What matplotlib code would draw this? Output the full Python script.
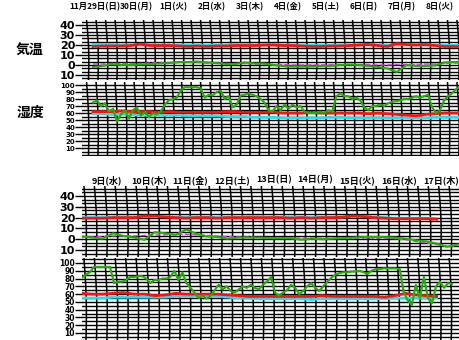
import numpy as np
import matplotlib.pyplot as plt

plt.rcParams['font.family'] = ['Noto Sans CJK JP', 'DejaVu Sans']

W, H = 460, 340

# day labels
days_1 = ["11月29日(日)", "30日(月)", "1日(火)", "2日(水)", "3日(木)",
          "4日(金)", "5日(土)", "6日(日)", "7日(月)", "8日(火)"]
days_2 = ["9日(水)", "10日(木)", "11日(金)", "12日(土)", "13日(日)",
          "14日(月)", "15日(火)", "16日(水)", "17日(木)"]

# ---- period 1 (11/29 - 12/8), 6-hourly from day 0.37 ----
temp1_red = [18.5, 19, 19, 19, 19.5, 21, 19.5, 19.5, 19.5, 19, 18.5, 19, 18.5, 19,
             19, 19.5, 19.5, 19.5, 20, 20, 19.5, 19.5, 19, 18.5, 18.5, 19, 19, 19.5,
             20, 20.5, 19.5, 18.5, 21.5, 20.5, 20, 20.5, 19.5, 18.5, 18.5, 18.5]
temp1_cyan = [20.5, 20.5, 20.5, 20, 20, 20.5, 20.5, 20, 20, 20, 20, 20, 19.5, 20,
              20, 20.5, 20.5, 20, 20, 20.5, 20, 20, 19.5, 19.5, 19.5, 19.5, 20, 20,
              20, 20.5, 20, 19.5, 20.5, 20.5, 20, 20, 20, 19.5, 19.5, 19.5]
temp1_green = [-2, -1, 1, 0, 0, 0.5, 1, 1.5, 2, 3, 3, 3.5, 2.5, 2, 1, 1, 2.5, 1.5,
               1.5, 0, -1, -1.5, -1.5, -1.5, -1, -1, 0, 0.5, 0, -1, -2, -3.5, -7,
               0, -1, -1, -0.5, 2.5, 3, 3]
temp1_mag = [1, 1, 1.5, 1.5, 1.5, 1.5, 2, 2, 2, 2.5, 2.5, 2.5, 2, 2, 1.5, 1.5, 1.5,
             1, 1, 0.5, 0.5, 0, 0, 0, 0, 0.5, 0.5, 0.5, 0.5, 0.5, 0, 0, 0.5, 0.5,
             0.5, 1, 1, 1.5, 2, 2]
hum1_red = [62, 62, 62, 63, 62, 62, 62, 61, 62, 61, 61, 61, 61, 61, 62, 62, 61, 61,
            61, 61, 60, 60, 60, 61, 60, 60, 60, 60, 60, 59, 60, 59, 58, 57, 56, 58,
            59, 60, 60, 60]
hum1_cyan = [59, 59, 58, 58, 58, 57, 57, 57, 57, 57, 56, 56, 56, 56, 55, 55, 55, 54,
             54, 54, 53, 53, 53, 53, 53, 54, 54, 53, 53, 53, 53, 53, 53, 53, 53, 53,
             54, 54, 54, 54]
hum1_green = [75, 78, 70, 74, 62, 66, 48, 58, 64, 52, 64, 68, 56, 62, 54, 60, 58, 62,
              72, 78, 80, 82, 92, 97, 97, 97, 97, 95, 82, 86, 85, 90, 92, 80, 84, 68,
              72, 85, 86, 88, 86, 84, 80, 75, 64, 62, 70, 64, 72, 66, 72, 68, 70, 62,
              60, 60, 60, 62, 60, 64, 62, 84, 88, 84, 84, 80, 82, 78, 68, 64, 70, 70,
              72, 70, 74, 76, 77, 78, 80, 80, 82, 84, 82, 84, 86, 68, 60, 64, 78, 84,
              88, 94, 98]

# ---- period 2 (12/9 - 12/17), 6-hourly from day -0.1 ----
temp2_red = [19.5, 19.5, 19.5, 20, 20, 20, 21.5, 21.5, 20.5, 20, 19.5, 20, 20, 19.5,
             20, 20, 20, 20, 20, 20, 19.5, 20, 19.5, 20, 20, 20.5, 21.5, 21, 20,
             19.5, 19, 19, 19, 19, 18.5]
temp2_cyan = [20, 20, 20, 20.5, 20.5, 20.5, 21, 21, 21, 20.5, 20.5, 20.5, 20.5, 20,
              20.5, 20.5, 21, 21, 20.5, 20.5, 20.5, 20.5, 20, 20.5, 20.5, 20.5, 21,
              21, 20.5, 20, 19.5, 19.5, 19.5, 19.5, 19]
temp2_green = [2.5, 1.5, 0.5, 5.5, 3, 1.5, -0.5, 6.5, 5.5, 4, 9, 5, 2.5, 2, 0.5, 1.5,
               1.5, 1.5, 1, 1, 1, -0.5, 0.5, 0, 0.5, 1, 1.5, 2, 2, 2, 1.5, 0.5, -1,
               -2, -4, -7, -5]
temp2_mag = [2, 2, 2.5, 3, 3, 3, 3.5, 4, 4, 4.5, 4.5, 4, 3.5, 3, 2.5, 2, 2, 1.5, 1.5,
             1, 1, 1, 1, 1, 1, 1, 1, 1, 1, 1, 0.5, -0.5, -2, -3.5, -5, -6.5, -6]
hum2_red = [61, 60, 60, 61, 62, 60, 60, 58, 59, 61, 60, 60, 60, 60, 59, 58, 57, 57,
            57, 57, 57, 57, 57, 58, 57, 57, 57, 57, 57, 56, 58, 61, 59, 58, 57]
hum2_cyan = [55, 55, 55, 56, 56, 56, 56, 56, 56, 57, 57, 57, 57, 57, 56, 55, 55, 54,
             54, 54, 54, 54, 53, 54, 54, 54, 54, 54, 54, 54, 55, 55, 55, 55, 55]
hum2_green = [81, 85, 88, 95, 95, 95, 95, 95, 74, 76, 76, 78, 82, 82, 83, 83, 80, 74,
              78, 78, 80, 80, 82, 90, 78, 88, 74, 68, 62, 55, 58, 54, 58, 65, 72, 66,
              70, 64, 62, 66, 70, 68, 72, 68, 66, 72, 76, 82, 62, 58, 62, 65, 72, 68,
              60, 64, 70, 74, 68, 64, 70, 76, 81, 85, 87, 88, 88, 89, 89, 90, 88, 86,
              90, 92, 92, 93, 93, 93, 93, 92, 62, 52, 46, 72, 55, 82, 55, 48, 70, 76,
              68, 74, 73]

RED, CYAN, GREEN, MAG = '#ff1010', '#20e0f0', '#20b000', '#d040e0'
DAY_FONT = ['Liberation Sans Narrow', 'Noto Sans CJK JP', 'DejaVu Sans']


def fax(x0, y0, x1, y1):
    return fig.add_axes([x0 / W, 1 - y1 / H, (x1 - x0) / W, (y1 - y0) / H])


def grid(ax, xlim, ystep, ylim, labels, ticks, fs):
    ax.set_xlim(*xlim)
    ax.set_ylim(*ylim)
    for s in ax.spines.values():
        s.set_visible(False)
    ax.set_xticks([])
    yy = np.arange(np.ceil(ylim[0] / ystep) * ystep, ylim[1], ystep)
    for y in yy:
        ax.axhline(y, color='black', lw=1.0, zorder=1)
    # slightly skewed vertical lines, every 6 h
    xs = np.arange(np.ceil(xlim[0] * 4) / 4, xlim[1] + 0.3, 0.25)
    fy = np.linspace(0, 1, 20)
    for x in xs:
        ax.plot(x - 0.05 * fy + 0.03 * np.sin(np.pi * fy), ylim[0] + fy * (ylim[1] - ylim[0]),
                color='black', lw=1.1, zorder=1)
    ax.set_yticks(ticks)
    ax.set_yticklabels(labels, fontsize=fs, fontweight='bold', family='DejaVu Sans')
    ax.tick_params(axis='y', length=5, width=1, pad=0)


fig = plt.figure(figsize=(W / 100, H / 100), dpi=100)

t_ticks = [40, 30, 20, 10, 0, -10]
t_labels = ['40', '30', '20', '10', '0', '10']
h_ticks = [100, 90, 80, 70, 60, 50, 40, 30, 20, 10]
h_labels = [str(v) for v in h_ticks]

# period 1
xl1 = (0.08, 10.03)
ax = fax(82, 20, 460, 80)
grid(ax, xl1, 10 / 3, (-15, 45), t_labels, t_ticks, 8)
t = 0.37 + 0.25 * np.arange(len(temp1_red))
ax.plot(t, temp1_mag, color=MAG, lw=1, ls='--', zorder=2)
ax.plot(t, temp1_cyan, color=CYAN, lw=2, zorder=3)
ax.plot(t, temp1_red, color=RED, lw=2, zorder=4)
ax.plot(t, temp1_green, color=GREEN, lw=1.5, zorder=5)
for k, d in enumerate(days_1):
    ax.text(k + 0.5 - (0.08 if k == 0 else 0), 1.22, d, transform=ax.get_xaxis_transform(),
            ha='center', va='center', fontsize=6, fontweight='bold', family=DAY_FONT)
fig.text(30 / W, 1 - 50 / H, '気温', ha='center', va='center', fontsize=10, fontweight='bold')

ax = fax(82, 82, 460, 156)
grid(ax, xl1, 5, (-1.4, 104.3), h_labels, h_ticks, 5)
ax.plot(t, hum1_cyan, color=CYAN, lw=2, zorder=3)
ax.plot(t, hum1_red, color=RED, lw=2, zorder=4)
tg = np.linspace(0.37, 10.03, len(hum1_green))
ax.plot(tg, hum1_green, color=MAG, lw=1, ls=':', zorder=5)
ax.plot(tg, hum1_green, color=GREEN, lw=1.5, zorder=6)
fig.text(30 / W, 1 - 113 / H, '湿度', ha='center', va='center', fontsize=10, fontweight='bold')

# period 2
xl2 = (-0.096, 8.96)
ax = fax(82, 186, 460, 257)
grid(ax, xl2, 10 / 3, (-16.5, 49.3), t_labels, t_ticks, 8)
t = -0.1 + 0.25 * np.arange(len(temp2_red))
tg = -0.1 + 0.25 * np.arange(len(temp2_green))
ax.plot(tg, temp2_mag, color=MAG, lw=1, ls='--', zorder=2)
ax.plot(t, temp2_cyan, color=CYAN, lw=2, zorder=3)
ax.plot(t, temp2_red, color=RED, lw=2, zorder=4)
ax.plot(tg, temp2_green, color=GREEN, lw=1.5, zorder=5)
for k, d in enumerate(days_2):
    ax.text(k + 0.5, 1.085, d, transform=ax.get_xaxis_transform(), ha='center',
            va='center', fontsize=6.5, fontweight='bold', family=DAY_FONT)

ax = fax(82, 258, 460, 340)
grid(ax, xl2, 5, (1.0, 106.4), h_labels, h_ticks, 5.5)
ax.plot(t, hum2_cyan, color=CYAN, lw=2, zorder=3)
ax.plot(t, hum2_red, color=RED, lw=2, zorder=4)
tg = np.linspace(-0.1, 8.77, len(hum2_green))
ax.plot(tg, hum2_green, color=MAG, lw=1, ls=':', zorder=5)
ax.plot(tg, hum2_green, color=GREEN, lw=1.5, zorder=6)

fig.savefig('out.png', dpi=100)
